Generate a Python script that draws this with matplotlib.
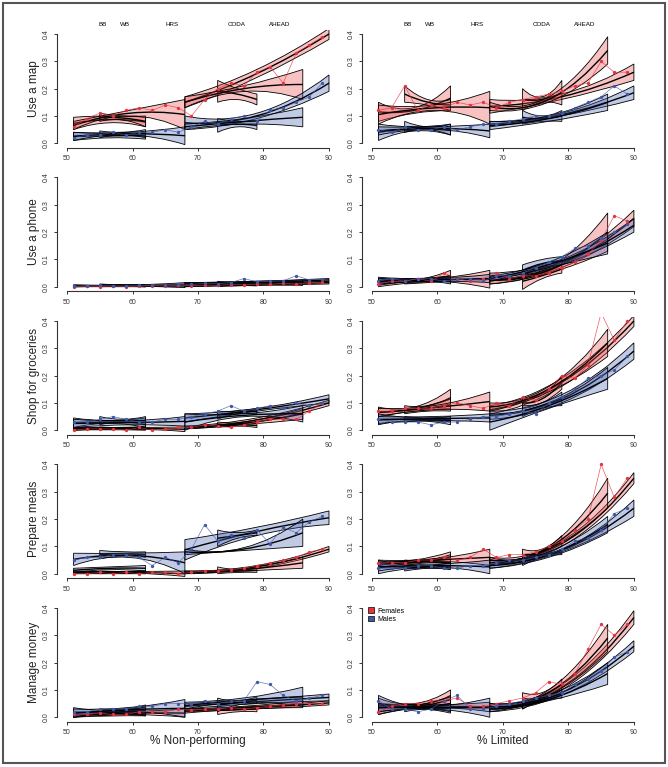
import numpy as np
import matplotlib.pyplot as plt
from matplotlib.path import Path
from matplotlib.patches import PathPatch, Patch, Rectangle

plt.rcParams['font.family'] = ['Liberation Sans', 'DejaVu Sans']

# cohort age ranges (each cohort gets its own fitted band)
SEGMENTS = [(51, 62), (55, 62), (51, 68), (68, 90), (73, 79), (68, 86)]
STUDY_NAMES = ["BB", "WB", "HRS", "CODA", "AHEAD"]
STUDY_LABEL_X = [55.5, 58.8, 66.1, 75.9, 82.5]
AGES = list(range(51, 90, 2))
ACTIVITIES = ["Use a map", "Use a phone", "Shop for groceries", "Prepare meals", "Manage money"]
XLABELS = ["% Non-performing", "% Limited"]

# band rows: (lo, hi) at start, middle and end of each cohort range
# ---- Use a map
map_np_f_band = [(0.05, 0.095, 0.075, 0.10, 0.06, 0.095), (0.08, 0.11, 0.085, 0.10, 0.06, 0.10),
                 (0.05, 0.08, 0.10, 0.12, 0.05, 0.16), (0.13, 0.17, 0.24, 0.27, 0.38, 0.42),
                 (0.15, 0.23, 0.16, 0.20, 0.14, 0.18), (0.13, 0.17, 0.19, 0.21, 0.16, 0.27)]
map_np_m_band = [(0.01, 0.04, 0.02, 0.035, 0.015, 0.04), (0.02, 0.045, 0.03, 0.04, 0.02, 0.05),
                 (0.01, 0.04, 0.03, 0.04, -0.005, 0.06), (0.05, 0.10, 0.09, 0.11, 0.19, 0.25),
                 (0.04, 0.09, 0.06, 0.08, 0.05, 0.08), (0.05, 0.07, 0.07, 0.09, 0.06, 0.13)]
map_np_f_pts = [0.06, 0.09, 0.11, 0.10, 0.12, 0.13, 0.12, 0.14, 0.13, 0.10,
                0.16, 0.20, 0.22, 0.21, 0.26, 0.28, 0.22, 0.33, 0.36, 0.39]
map_np_m_pts = [0.02, 0.03, 0.03, 0.04, 0.03, 0.04, 0.04, 0.05, 0.04, 0.06,
                0.08, 0.07, 0.09, 0.10, 0.08, 0.12, 0.13, 0.15, 0.17, 0.22]

map_lim_f_band = [(0.08, 0.15, 0.11, 0.13, 0.12, 0.21), (0.15, 0.21, 0.14, 0.16, 0.12, 0.16),
                  (0.07, 0.14, 0.12, 0.14, 0.07, 0.19), (0.11, 0.16, 0.16, 0.18, 0.23, 0.29),
                  (0.12, 0.20, 0.15, 0.17, 0.14, 0.23), (0.12, 0.15, 0.15, 0.17, 0.29, 0.39)]
map_lim_m_band = [(0.01, 0.07, 0.045, 0.06, 0.03, 0.07), (0.04, 0.08, 0.05, 0.06, 0.03, 0.07),
                  (0.03, 0.06, 0.05, 0.06, 0.02, 0.07), (0.06, 0.08, 0.10, 0.11, 0.16, 0.21),
                  (0.07, 0.12, 0.08, 0.10, 0.08, 0.12), (0.05, 0.08, 0.08, 0.10, 0.12, 0.18)]
map_lim_f_pts = [0.12, 0.13, 0.21, 0.12, 0.14, 0.13, 0.15, 0.14, 0.15, 0.13,
                 0.15, 0.16, 0.17, 0.18, 0.19, 0.21, 0.22, 0.30, 0.26, 0.26]
map_lim_m_pts = [0.05, 0.04, 0.06, 0.05, 0.05, 0.06, 0.05, 0.06, 0.07, 0.07,
                 0.08, 0.09, 0.10, 0.10, 0.11, 0.13, 0.15, 0.17, 0.21, 0.18]

# ---- Use a phone
phone_np_f_band = [(0.0, 0.005, 0.0, 0.004, 0.0, 0.006), (0.0, 0.008, 0.001, 0.006, 0.0, 0.007),
                   (0.0, 0.006, 0.001, 0.005, 0.0, 0.010), (0.0, 0.010, 0.005, 0.012, 0.010, 0.020),
                   (0.0, 0.012, 0.004, 0.010, 0.003, 0.012), (0.0, 0.012, 0.006, 0.013, 0.005, 0.020)]
phone_np_m_band = [(0.0, 0.006, 0.001, 0.005, 0.0, 0.006), (0.002, 0.010, 0.003, 0.007, 0.0, 0.008),
                   (0.0, 0.006, 0.002, 0.006, -0.003, 0.015), (0.005, 0.015, 0.012, 0.020, 0.020, 0.030),
                   (0.005, 0.020, 0.008, 0.016, 0.005, 0.020), (0.005, 0.015, 0.010, 0.018, 0.010, 0.025)]
phone_np_f_pts = [0.0, 0.002, 0.0, 0.003, 0.0, 0.002, 0.004, 0.003, 0.005, 0.004,
                  0.006, 0.005, 0.008, 0.007, 0.010, 0.009, 0.012, 0.010, 0.014, 0.016]
phone_np_m_pts = [0.002, 0.004, 0.005, 0.003, 0.003, 0.005, 0.006, 0.008, 0.010, 0.009,
                  0.012, 0.011, 0.015, 0.030, 0.018, 0.020, 0.022, 0.040, 0.025, 0.028]

phone_lim_f_band = [(0.0, 0.03, 0.015, 0.025, 0.02, 0.06), (0.01, 0.03, 0.015, 0.025, 0.02, 0.04),
                    (0.005, 0.03, 0.02, 0.03, -0.005, 0.06), (0.01, 0.04, 0.07, 0.09, 0.22, 0.28),
                    (-0.01, 0.05, 0.03, 0.05, 0.05, 0.08), (0.01, 0.04, 0.05, 0.07, 0.13, 0.27)]
phone_lim_m_band = [(0.01, 0.035, 0.02, 0.03, 0.02, 0.04), (0.015, 0.03, 0.02, 0.03, 0.01, 0.04),
                    (0.01, 0.03, 0.02, 0.03, 0.015, 0.045), (0.02, 0.05, 0.08, 0.10, 0.20, 0.25),
                    (0.04, 0.08, 0.07, 0.10, 0.08, 0.11), (0.02, 0.04, 0.07, 0.09, 0.12, 0.20)]
phone_lim_f_pts = [0.01, 0.02, 0.02, 0.03, 0.02, 0.05, 0.03, 0.02, 0.03, 0.05,
                   0.03, 0.04, 0.04, 0.05, 0.07, 0.09, 0.12, 0.17, 0.26, 0.24]
phone_lim_m_pts = [0.02, 0.03, 0.02, 0.03, 0.03, 0.02, 0.03, 0.03, 0.02, 0.04,
                   0.04, 0.05, 0.07, 0.09, 0.11, 0.14, 0.15, 0.18, 0.20, 0.23]

# ---- Shop for groceries
shop_np_f_band = [(0.0, 0.010, 0.002, 0.008, 0.0, 0.012), (0.005, 0.012, 0.005, 0.010, 0.005, 0.015),
                  (0.0, 0.010, 0.005, 0.010, -0.005, 0.012), (0.005, 0.015, 0.03, 0.045, 0.09, 0.11),
                  (0.01, 0.03, 0.015, 0.025, 0.01, 0.025), (0.005, 0.015, 0.02, 0.03, 0.04, 0.08)]
shop_np_m_band = [(0.01, 0.045, 0.025, 0.035, 0.01, 0.045), (0.02, 0.05, 0.03, 0.04, 0.02, 0.05),
                  (0.01, 0.04, 0.02, 0.035, 0.015, 0.05), (0.03, 0.06, 0.07, 0.08, 0.10, 0.13),
                  (0.04, 0.07, 0.06, 0.07, 0.06, 0.08), (0.0, 0.06, 0.05, 0.06, 0.03, 0.09)]
shop_np_f_pts = [0.0, 0.005, 0.005, 0.005, 0.0, 0.01, 0.0, 0.005, 0.01, 0.01,
                 0.02, 0.015, 0.01, 0.02, 0.03, 0.04, 0.04, 0.04, 0.07, 0.10]
shop_np_m_pts = [0.03, 0.03, 0.04, 0.05, 0.04, 0.03, 0.03, 0.04, 0.04, 0.05,
                 0.06, 0.07, 0.09, 0.07, 0.08, 0.09, 0.08, 0.10, 0.09, 0.10]

shop_lim_f_band = [(0.05, 0.085, 0.07, 0.085, 0.08, 0.15), (0.06, 0.09, 0.07, 0.09, 0.07, 0.12),
                   (0.05, 0.08, 0.075, 0.09, 0.07, 0.14), (0.06, 0.09, 0.16, 0.19, 0.38, 0.42),
                   (0.08, 0.12, 0.10, 0.13, 0.15, 0.20), (0.07, 0.10, 0.14, 0.16, 0.27, 0.37)]
shop_lim_m_band = [(0.02, 0.06, 0.035, 0.045, 0.02, 0.05), (0.03, 0.05, 0.035, 0.045, 0.03, 0.05),
                   (0.025, 0.05, 0.035, 0.05, 0.03, 0.06), (0.04, 0.07, 0.10, 0.13, 0.26, 0.32),
                   (0.05, 0.09, 0.08, 0.10, 0.09, 0.14), (0.0, 0.06, 0.08, 0.10, 0.15, 0.23)]
shop_lim_f_pts = [0.07, 0.07, 0.08, 0.08, 0.08, 0.09, 0.10, 0.09, 0.08, 0.10,
                  0.09, 0.12, 0.11, 0.15, 0.20, 0.19, 0.24, 0.43, 0.33, 0.40]
shop_lim_m_pts = [0.04, 0.03, 0.03, 0.03, 0.02, 0.03, 0.03, 0.04, 0.05, 0.05,
                  0.06, 0.07, 0.06, 0.10, 0.12, 0.15, 0.19, 0.20, 0.22, 0.27]

# ---- Prepare meals
meals_np_f_band = [(0.0, 0.010, 0.0, 0.008, 0.0, 0.010), (0.0, 0.010, 0.002, 0.008, 0.0, 0.010),
                   (0.0, 0.008, 0.003, 0.008, -0.010, 0.010), (0.0, 0.010, 0.02, 0.03, 0.08, 0.10),
                   (0.0, 0.025, 0.005, 0.015, 0.005, 0.02), (0.0, 0.010, 0.01, 0.02, 0.02, 0.06)]
meals_np_m_band = [(0.005, 0.02, 0.015, 0.025, 0.01, 0.03), (0.055, 0.085, 0.065, 0.08, 0.06, 0.08),
                   (0.03, 0.075, 0.06, 0.075, 0.0, 0.08), (0.05, 0.125, 0.14, 0.17, 0.18, 0.23),
                   (0.10, 0.16, 0.13, 0.15, 0.14, 0.16), (0.07, 0.09, 0.085, 0.095, 0.10, 0.20)]
meals_np_f_pts = [0.0, 0.0, 0.005, 0.0, 0.005, 0.0, 0.005, 0.005, 0.0, 0.005,
                  0.01, 0.01, 0.015, 0.02, 0.03, 0.04, 0.05, 0.06, 0.08, 0.09]
meals_np_m_pts = [0.05, 0.06, 0.06, 0.07, 0.07, 0.06, 0.03, 0.06, 0.04, 0.09,
                  0.18, 0.12, 0.14, 0.13, 0.16, 0.11, 0.17, 0.15, 0.19, 0.21]

meals_lim_f_band = [(0.02, 0.045, 0.04, 0.05, 0.04, 0.08), (0.03, 0.05, 0.04, 0.05, 0.04, 0.07),
                    (0.03, 0.05, 0.045, 0.055, 0.03, 0.09), (0.04, 0.06, 0.10, 0.12, 0.33, 0.37),
                    (0.05, 0.09, 0.07, 0.09, 0.10, 0.14), (0.04, 0.06, 0.09, 0.10, 0.24, 0.35)]
meals_lim_m_band = [(0.0, 0.05, 0.02, 0.03, 0.015, 0.04), (0.01, 0.03, 0.02, 0.03, 0.02, 0.04),
                    (0.01, 0.04, 0.025, 0.035, 0.0, 0.05), (0.02, 0.05, 0.08, 0.09, 0.21, 0.27),
                    (0.03, 0.07, 0.06, 0.07, 0.07, 0.09), (0.02, 0.04, 0.06, 0.08, 0.15, 0.21)]
meals_lim_f_pts = [0.04, 0.04, 0.04, 0.05, 0.05, 0.06, 0.05, 0.06, 0.09, 0.06,
                   0.07, 0.07, 0.08, 0.10, 0.12, 0.16, 0.20, 0.40, 0.28, 0.35]
meals_lim_m_pts = [0.02, 0.02, 0.02, 0.03, 0.03, 0.02, 0.02, 0.03, 0.03, 0.04,
                   0.05, 0.05, 0.06, 0.07, 0.09, 0.12, 0.13, 0.16, 0.22, 0.24]

# ---- Manage money
money_np_f_band = [(0.0, 0.02, 0.005, 0.015, 0.005, 0.02), (0.005, 0.02, 0.01, 0.02, 0.005, 0.02),
                   (0.0, 0.015, 0.01, 0.02, 0.0, 0.03), (0.02, 0.03, 0.03, 0.04, 0.045, 0.06),
                   (0.01, 0.04, 0.02, 0.035, 0.02, 0.04), (0.015, 0.03, 0.03, 0.04, 0.035, 0.06)]
money_np_m_band = [(0.0, 0.035, 0.015, 0.025, 0.01, 0.04), (0.015, 0.03, 0.02, 0.03, 0.03, 0.045),
                   (0.0, 0.03, 0.02, 0.035, 0.0, 0.065), (0.03, 0.05, 0.05, 0.065, 0.06, 0.085),
                   (0.02, 0.07, 0.045, 0.06, 0.05, 0.075), (0.03, 0.055, 0.055, 0.07, 0.04, 0.11)]
money_np_f_pts = [0.01, 0.01, 0.015, 0.01, 0.01, 0.02, 0.02, 0.02, 0.03, 0.025,
                  0.03, 0.03, 0.035, 0.03, 0.035, 0.04, 0.045, 0.05, 0.05, 0.05]
money_np_m_pts = [0.02, 0.02, 0.03, 0.03, 0.03, 0.04, 0.04, 0.05, 0.05, 0.05,
                  0.06, 0.05, 0.06, 0.06, 0.13, 0.12, 0.08, 0.06, 0.07, 0.08]

money_lim_f_band = [(0.01, 0.07, 0.035, 0.05, 0.05, 0.10), (0.03, 0.05, 0.04, 0.05, 0.05, 0.08),
                    (0.02, 0.05, 0.035, 0.045, 0.02, 0.055), (0.03, 0.05, 0.10, 0.12, 0.34, 0.39),
                    (0.03, 0.09, 0.07, 0.09, 0.10, 0.14), (0.03, 0.05, 0.08, 0.10, 0.24, 0.34)]
money_lim_m_band = [(0.01, 0.08, 0.03, 0.04, 0.015, 0.05), (0.02, 0.05, 0.03, 0.04, 0.02, 0.05),
                    (0.02, 0.05, 0.03, 0.04, 0.0, 0.07), (0.02, 0.05, 0.08, 0.10, 0.24, 0.28),
                    (0.03, 0.07, 0.06, 0.07, 0.07, 0.10), (0.02, 0.04, 0.06, 0.07, 0.12, 0.20)]
money_lim_f_pts = [0.02, 0.04, 0.05, 0.05, 0.06, 0.06, 0.07, 0.04, 0.04, 0.05,
                   0.06, 0.07, 0.09, 0.13, 0.12, 0.16, 0.25, 0.34, 0.30, 0.34]
money_lim_m_pts = [0.06, 0.03, 0.03, 0.02, 0.03, 0.06, 0.08, 0.03, 0.03, 0.04,
                   0.05, 0.06, 0.07, 0.08, 0.09, 0.12, 0.14, 0.17, 0.22, 0.24]

PANELS = [
    [(map_np_f_band, map_np_f_pts, map_np_m_band, map_np_m_pts),
     (map_lim_f_band, map_lim_f_pts, map_lim_m_band, map_lim_m_pts)],
    [(phone_np_f_band, phone_np_f_pts, phone_np_m_band, phone_np_m_pts),
     (phone_lim_f_band, phone_lim_f_pts, phone_lim_m_band, phone_lim_m_pts)],
    [(shop_np_f_band, shop_np_f_pts, shop_np_m_band, shop_np_m_pts),
     (shop_lim_f_band, shop_lim_f_pts, shop_lim_m_band, shop_lim_m_pts)],
    [(meals_np_f_band, meals_np_f_pts, meals_np_m_band, meals_np_m_pts),
     (meals_lim_f_band, meals_lim_f_pts, meals_lim_m_band, meals_lim_m_pts)],
    [(money_np_f_band, money_np_f_pts, money_np_m_band, money_np_m_pts),
     (money_lim_f_band, money_lim_f_pts, money_lim_m_band, money_lim_m_pts)],
]

RED = '#e8323c'
BLUE = '#4058a8'
RED_FILL = (0.93, 0.30, 0.30, 0.34)
BLUE_FILL = (0.25, 0.36, 0.68, 0.32)


def ctrl(x0, y0, xm, ym, x1, y1):
    # control point so the quadratic curve passes through the middle value
    return (2 * xm - 0.5 * (x0 + x1), 2 * ym - 0.5 * (y0 + y1))


def draw_band(ax, seg, row, fill):
    s, e = seg
    m = (s + e) / 2
    lo0, hi0, lom, him, lo1, hi1 = row
    verts = [(s, lo0), ctrl(s, lo0, m, lom, e, lo1), (e, lo1),
             (e, hi1), ctrl(e, hi1, m, him, s, hi0), (s, hi0), (s, lo0)]
    codes = [Path.MOVETO, Path.CURVE3, Path.CURVE3, Path.LINETO,
             Path.CURVE3, Path.CURVE3, Path.CLOSEPOLY]
    ax.add_patch(PathPatch(Path(verts, codes), facecolor=fill, edgecolor='black', lw=0.6))
    # fitted line in the middle of the band
    c0, cm, c1 = (lo0 + hi0) / 2, (lom + him) / 2, (lo1 + hi1) / 2
    line = Path([(s, c0), ctrl(s, c0, m, cm, e, c1), (e, c1)],
                [Path.MOVETO, Path.CURVE3, Path.CURVE3])
    ax.add_patch(PathPatch(line, facecolor='none', edgecolor='black', lw=1.0))


W, H = 668, 767
fig = plt.figure(figsize=(W / 100, H / 100), dpi=100)

lefts = [57.2, 362.1]
tops = [29.6 + 143.5 * i for i in range(5)]
ax_w, ax_h = 282, 118

for r in range(5):
    for c in range(2):
        ax = fig.add_axes([lefts[c] / W, 1 - (tops[r] + ax_h) / H, ax_w / W, ax_h / H])
        f_band, f_pts, m_band, m_pts = PANELS[r][c]
        for seg, row in zip(SEGMENTS, f_band):
            draw_band(ax, seg, row, RED_FILL)
        for seg, row in zip(SEGMENTS, m_band):
            draw_band(ax, seg, row, BLUE_FILL)
        ax.plot(AGES, f_pts, color=RED, lw=0.5, alpha=0.8)
        ax.plot(AGES, m_pts, color=BLUE, lw=0.5, alpha=0.8)
        ax.plot(AGES, f_pts, 'o', color=RED, ms=2.4, mew=0)
        ax.plot(AGES, m_pts, 'o', color=BLUE, ms=2.4, mew=0)

        ax.set_xlim(48.5, 91.56)
        ax.set_ylim(-0.016, 0.416)
        ax.set_xticks([50, 60, 70, 80, 90])
        ax.set_yticks([0.0, 0.1, 0.2, 0.3, 0.4])
        ax.set_yticklabels(['0.0', '0.1', '0.2', '0.3', '0.4'])
        for side in ['top', 'right']:
            ax.spines[side].set_visible(False)
        ax.spines['left'].set_bounds(0, 0.4)
        ax.spines['bottom'].set_bounds(50, 90)
        for side in ['left', 'bottom']:
            ax.spines[side].set_color('#333333')
            ax.spines[side].set_linewidth(0.8)
        ax.tick_params(length=2.5, width=0.7, labelsize=5, pad=3, colors='#333333')
        ax.tick_params(axis='y', labelrotation=90)
        for lab in ax.get_yticklabels():
            lab.set_verticalalignment('center')
        ax.patch.set_alpha(0)

        if c == 0:
            ax.set_ylabel(ACTIVITIES[r], fontsize=8.5, labelpad=2, color='#222222')
        if r == 4:
            ax.set_xlabel(XLABELS[c], fontsize=8.5, labelpad=-1, color='#222222')
        if r == 0:
            for name, x in zip(STUDY_NAMES, STUDY_LABEL_X):
                ax.text(x, 0.433, name, fontsize=4.5, ha='center', va='center', clip_on=False)
        if r == 4 and c == 1:
            handles = [Patch(facecolor=RED, edgecolor='black', lw=0.5, label='Females'),
                       Patch(facecolor=BLUE, edgecolor='black', lw=0.5, label='Males')]
            ax.legend(handles=handles, loc='upper left', bbox_to_anchor=(0.0, 1.02),
                      frameon=False, fontsize=5, handlelength=0.8, handleheight=0.8,
                      handletextpad=0.5, labelspacing=0.2)

fig.patches.append(Rectangle((3 / W, 4 / H), 662 / W, 760 / H, transform=fig.transFigure,
                             fill=False, edgecolor='#555555', lw=1.5))

fig.savefig('out.png', dpi=100)
